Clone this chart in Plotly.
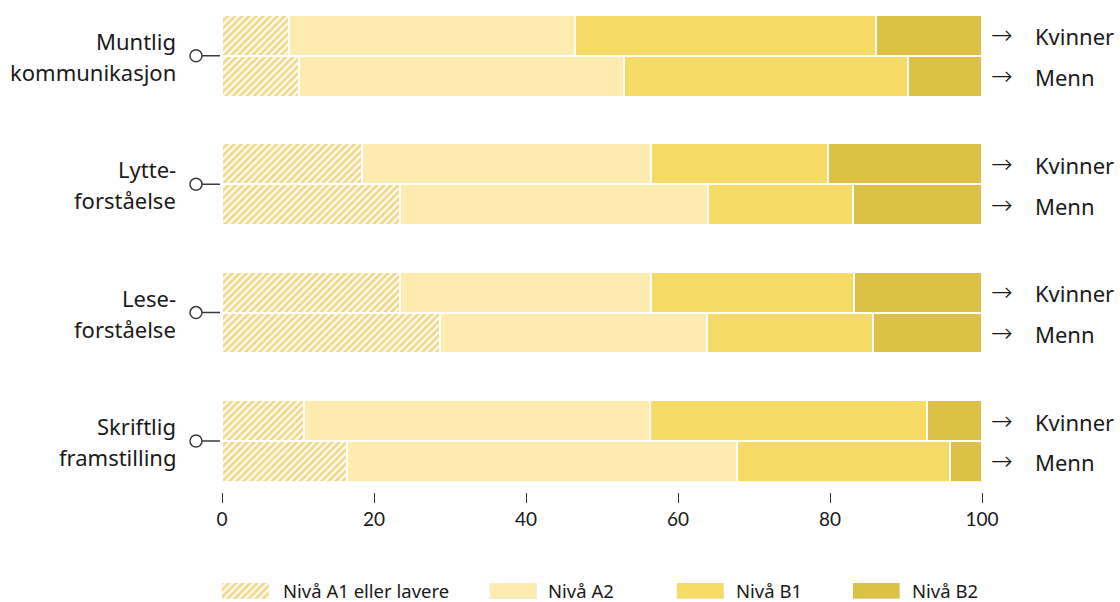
import plotly.graph_objects as go

# Ferdigheter og nivå, prosent
kategorier = [
    ["Muntlig", "kommunikasjon"],
    ["Lytte-", "forståelse"],
    ["Lese-", "forståelse"],
    ["Skriftlig", "framstilling"],
]
kjonn = ["Kvinner", "Menn"]
nivaa = ["Nivå A1 eller lavere", "Nivå A2", "Nivå B1", "Nivå B2"]

kvinner_a1 = [8.8, 18.4, 23.4, 10.8]
kvinner_a2 = [37.6, 38.0, 33.0, 45.5]
kvinner_b1 = [39.7, 23.4, 26.8, 36.5]
kvinner_b2 = [13.9, 20.2, 16.8, 7.2]

menn_a1 = [10.1, 23.4, 28.7, 16.4]
menn_a2 = [42.8, 40.5, 35.1, 51.4]
menn_b1 = [37.4, 19.1, 21.8, 28.0]
menn_b2 = [9.7, 17.0, 14.4, 4.2]

x_ticks = [0, 20, 40, 60, 80, 100]

FARGER = ["#E3B51E", "#FDEBB0", "#F6DC66", "#DBC146"]
TEKST = "#1a1a1a"
FONT = "'Noto Sans', sans-serif"
GRUPPE = 3.146  # avstand mellom grupper (i stolpebredder)

# y-posisjon: kvinner og menn ligger tett, gruppene med luft imellom
y_pos = []
for g in range(len(kategorier)):
    y_pos += [g * GRUPPE, g * GRUPPE + 1]


def flett(k, m):
    ut = []
    for a, b in zip(k, m):
        ut += [a, b]
    return ut


serier = [
    flett(kvinner_a1, menn_a1),
    flett(kvinner_a2, menn_a2),
    flett(kvinner_b1, menn_b1),
    flett(kvinner_b2, menn_b2),
]

skravur = dict(shape="/", fgcolor=FARGER[0], bgcolor="white", size=5, solidity=0.6)

fig = go.Figure()

for i, verdier in enumerate(serier):
    if i == 0:
        marker = dict(color="white", line=dict(color="white", width=2), pattern=skravur)
    else:
        marker = dict(color=FARGER[i], line=dict(color="white", width=2))
    fig.add_trace(
        go.Bar(
            x=verdier,
            y=y_pos,
            orientation="h",
            width=1,
            name=nivaa[i],
            marker=marker,
            showlegend=False,
            hovertemplate="%{x:.1f} %<extra>" + nivaa[i] + "</extra>",
        )
    )

# egen forklaring nederst (bredere fargefelt enn plotly-legenden)
leg_start = [0, 35.3, 59.9, 83.0]
leg_bredde = 6.2
leg_tekst_x = [7.9, 42.8, 67.5, 90.7]
for i, navn in enumerate(nivaa):
    if i == 0:
        marker = dict(color="white", pattern=skravur)
    else:
        marker = dict(color=FARGER[i])
    fig.add_trace(
        go.Bar(
            x=[leg_bredde], base=[leg_start[i]], y=[0.5], width=1,
            orientation="h", xaxis="x2", yaxis="y2",
            marker=marker, showlegend=False, hoverinfo="skip",
        )
    )

annotations = []
shapes = []
for i, navn in enumerate(nivaa):
    annotations.append(dict(
        x=leg_tekst_x[i], y=0.5, xref="x2", yref="y2", text=navn,
        showarrow=False, xanchor="left", yanchor="middle", borderpad=0,
        font=dict(size=18.5, color=TEKST, family=FONT),
    ))

for g, linjer in enumerate(kategorier):
    midt = g * GRUPPE + 0.5
    for j, linje in enumerate(linjer):
        annotations.append(dict(
            x=0, y=midt, xref="x", yref="y", text=linje, showarrow=False,
            xanchor="right", yanchor="middle", xshift=-44,
            yshift=15 if j == 0 else -16,
            font=dict(size=22, color=TEKST, family=FONT),
        ))
    # liten sirkel med strek inn mot stolpene
    shapes.append(dict(
        type="circle", xref="paper", yref="y", xsizemode="pixel", ysizemode="pixel",
        xanchor=0, yanchor=midt, x0=-32, x1=-20, y0=-6, y1=6,
        line=dict(color="#3a3a3a", width=1.5), fillcolor="white",
    ))
    shapes.append(dict(
        type="line", xref="paper", yref="y", xsizemode="pixel",
        xanchor=0, x0=-20, x1=-2, y0=midt, y1=midt,
        line=dict(color="#3a3a3a", width=1.5),
    ))
    for s, navn in enumerate(kjonn):
        yy = g * GRUPPE + s
        annotations.append(dict(
            x=100, y=yy, xref="x", yref="y", text="→", showarrow=False,
            xanchor="left", yanchor="middle", xshift=7, yshift=0,
            font=dict(size=26, color=TEKST, family="'DejaVu Sans'", weight=200),
        ))
        annotations.append(dict(
            x=100, y=yy, xref="x", yref="y", text=navn, showarrow=False,
            xanchor="left", yanchor="middle", xshift=51, yshift=-1,
            font=dict(size=22, color=TEKST, family=FONT),
        ))

fig.update_layout(
    width=1120,
    height=602,
    barmode="stack",
    bargap=0,
    plot_bgcolor="white",
    paper_bgcolor="white",
    margin=dict(l=222, r=138, t=15, b=3),
    font=dict(family=FONT, color=TEKST),
    xaxis=dict(
        range=[0, 100], tickvals=x_ticks, showgrid=False, zeroline=False,
        showline=False, ticks="outside", ticklen=10, tickwidth=1,
        tickcolor="#333", tickfont=dict(size=19, color=TEKST, family="Lato"),
        anchor="free", position=0.1828, fixedrange=True,
    ),
    yaxis=dict(
        range=[3 * GRUPPE + 1.5, -0.5], domain=[0.2007, 1], visible=False,
        fixedrange=True,
    ),
    xaxis2=dict(range=[0, 100], domain=[0, 1], anchor="y2", visible=False),
    yaxis2=dict(range=[0, 1], domain=[0, 0.0274], visible=False),
    annotations=annotations,
    shapes=shapes,
    showlegend=False,
)

fig.write_html(
    "out.html",
    config={"displayModeBar": False},
    post_script="document.body.style.margin='0';",
)
